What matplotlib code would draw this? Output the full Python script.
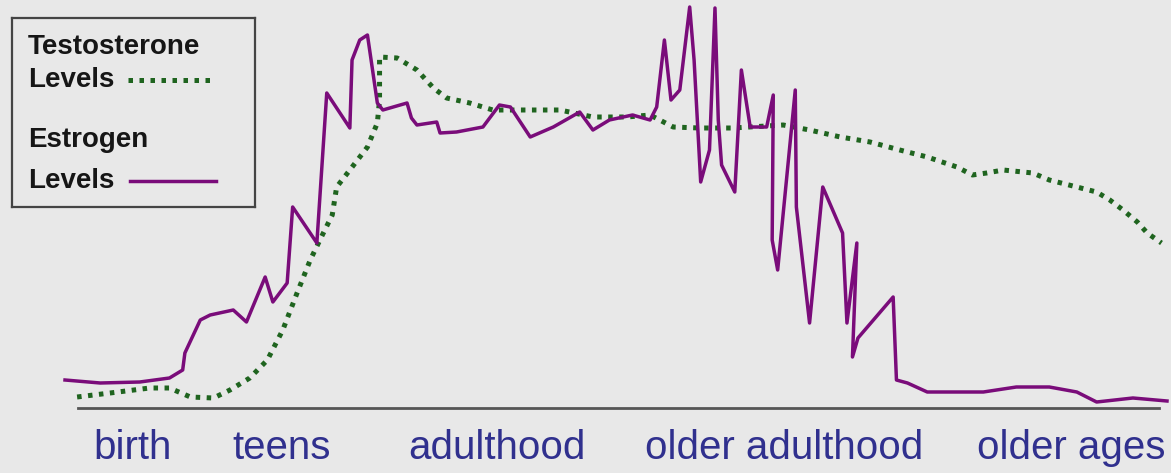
import matplotlib.pyplot as plt

# life stage position (0-100) and hormone level (0-100)
estrogen_x = [0, 3.2, 6.8, 9.5, 10.7, 10.9, 12.3, 13.2, 15.3, 16.5, 18.2, 18.9, 20.2, 20.7,
              22.9, 23.8, 25.9, 26.1, 26.8, 27.5, 27.7, 28.4, 28.9, 31.1, 31.5, 32, 33.8, 34.1,
              35.6, 38, 39.5, 40.5, 42.3, 44.4, 46.8, 48, 49.5, 51.6, 53.2, 53.8, 54.5, 55.1,
              55.9, 56.8, 57.2, 57.8, 58.6, 59.1, 59.4, 59.7, 60.9, 61.5, 62.3, 63.8, 64.4,
              64.3, 64.8, 66.4, 66.5, 67.7, 68.9, 70.7, 71.1, 72, 71.6, 72.1, 75.3, 75.6,
              76.6, 78.4, 83.5, 86.5, 89.5, 92, 93.8, 97.1, 100.2]
estrogen_y = [7, 6.25, 6.5, 7.5, 9.5, 13.75, 22, 23.25, 24.5, 21.5, 32.75, 26.5, 31.25, 50.25,
              41.25, 78.75, 70, 87, 92, 93.25, 89.5, 76.25, 74.5, 76.25, 72.5, 70.75, 71.5, 68.75,
              69, 70.25, 75.75, 75.25, 67.75, 70.25, 74, 69.5, 72, 73.25, 72, 75.25, 92, 77,
              79.5, 100.25, 87, 56.5, 64.5, 100, 72, 60.75, 54, 84.5, 70.25, 70.25, 78.25,
              42, 34.5, 79.5, 50.25, 21.25, 55.25, 43.75, 21.25, 41.25, 12.75, 17.5, 27.75, 7,
              6.25, 4, 4, 5.25, 5.25, 4, 1.5, 2.5, 1.75]

testo_x = [1.1, 4.1, 7.7, 9.5, 11.4, 13.5, 15, 16.8, 18.4, 19.8, 21.1, 22.3, 23.4, 24.3, 24.7,
           25.9, 27.5, 28.4, 28.6, 28.6, 30.2, 32, 33.5, 34.7, 36.8, 38.9, 42, 45, 48, 51.1,
           53.2, 55.3, 57.7, 60.7, 65.3, 67.7, 70.5, 73.2, 75.9, 78.4, 81.1, 82.5, 83.8, 85.3,
           88, 89.5, 92, 93.8, 95, 96.2, 97.5, 98.4, 99.7]
testo_y = [2.75, 3.75, 5, 5, 2.75, 2.5, 4.5, 7.5, 12, 19.5, 28.75, 37, 43.25, 48.25, 55.25,
           59.5, 65.25, 71.25, 77, 87.75, 87.5, 84.5, 80, 77.5, 76.25, 74.5, 74.5, 74.5, 72.75,
           72.75, 73.25, 70.25, 70, 70, 70.75, 69.5, 67.75, 66.5, 64.5, 62.75, 60.25, 58.25,
           58.75, 59.5, 58.75, 57, 55.25, 54, 52, 49.5, 46.5, 43.75, 41.25]

stage_pos = [6.1, 19.7, 39.3, 65.4, 91.5]
stage_labels = ['birth', 'teens', 'adulthood', 'older adulthood', 'older ages']

bg = '#e8e8e8'
purple = '#7a0c7a'
green = '#1f641f'
label_blue = '#30308e'

plt.rcParams['font.family'] = ['Liberation Sans', 'DejaVu Sans']

fig = plt.figure(figsize=(11.71, 4.73), dpi=100, facecolor=bg)
ax = fig.add_axes([65 / 1171, 65 / 473, 1102 / 1171, 401 / 473])
ax.set_facecolor(bg)
ax.set_xlim(0, 100.2)
ax.set_ylim(0, 100.25)

ax.plot(testo_x, testo_y, color=green, lw=3.6, linestyle=(0, (0.9, 1.3)),
        dash_capstyle='butt', clip_on=False, zorder=2)
ax.plot(estrogen_x, estrogen_y, color=purple, lw=2.5, clip_on=False, zorder=3)

ax.axhline(0, xmin=1.2 / 100.2, xmax=99.5 / 100.2, color='#555555', lw=2, clip_on=False)

for s in ax.spines.values():
    s.set_visible(False)
ax.set_yticks([])
ax.set_xticks(stage_pos)
ax.set_xticklabels(stage_labels, fontsize=29, color=label_blue)
ax.tick_params(axis='x', length=0, pad=15)

# legend box
lg = fig.add_axes([12 / 1171, 1 - 207 / 473, 243 / 1171, 189 / 473])
lg.set_facecolor(bg)
lg.set_xlim(0, 1)
lg.set_ylim(0, 1)
lg.set_xticks([])
lg.set_yticks([])
for s in lg.spines.values():
    s.set_color('#444444')
    s.set_linewidth(1.6)
kw = dict(fontsize=20, fontweight='bold', va='center', ha='left', color='#161616')
lg.text(0.066, 0.847, 'Testosterone', **kw)
lg.text(0.066, 0.672, 'Levels', **kw)
lg.plot([0.477, 0.815], [0.672, 0.672], color=green, lw=3.6, linestyle=(0, (0.9, 1.3)))
lg.text(0.066, 0.354, 'Estrogen', **kw)
lg.text(0.066, 0.138, 'Levels', **kw)
lg.plot([0.486, 0.840], [0.138, 0.138], color=purple, lw=2.5)

fig.savefig('out.png', dpi=100, facecolor=bg)
